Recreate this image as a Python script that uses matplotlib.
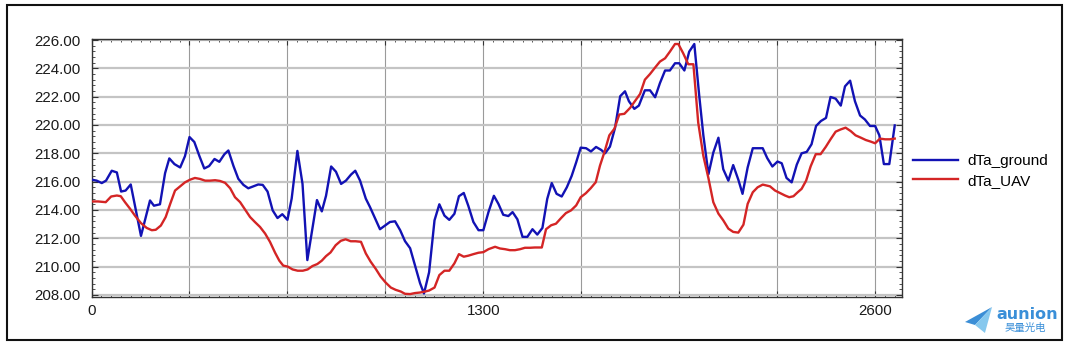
import numpy as np
import matplotlib
matplotlib.use("Agg")
import matplotlib.pyplot as plt
from matplotlib.ticker import MultipleLocator, FuncFormatter
from matplotlib.patches import Rectangle, Polygon

# data
ground_x = [0, 17, 34, 48, 67, 84, 98, 113, 130, 164, 194, 207, 227, 244, 258, 275, 294, 310, 325,
            341, 358, 374, 390, 408, 424, 441, 454, 471, 487, 504, 520, 537, 553, 568, 584, 601, 617,
            633, 650, 664, 683, 700, 716, 748, 764, 778, 795, 811, 828, 844, 861, 875, 891, 910, 924,
            941, 957, 974, 990, 1007, 1024, 1040, 1057, 1073, 1090, 1103, 1120, 1138, 1154, 1171, 1187,
            1204, 1219, 1235, 1250, 1267, 1284, 1300, 1317, 1335, 1350, 1366, 1383, 1397, 1413, 1430,
            1446, 1463, 1479, 1496, 1512, 1527, 1543, 1560, 1577, 1593, 1608, 1623, 1641, 1657, 1674,
            1691, 1704, 1720, 1737, 1754, 1770, 1783, 1801, 1816, 1836, 1853, 1870, 1886, 1903, 1919,
            1936, 1950, 1967, 1983, 2000, 2016, 2030, 2047, 2063, 2080, 2096, 2113, 2129, 2146, 2160,
            2177, 2194, 2210, 2227, 2242, 2259, 2276, 2290, 2306, 2323, 2340, 2356, 2373, 2389, 2404,
            2420, 2437, 2452, 2469, 2486, 2500, 2517, 2533, 2550, 2566, 2583, 2600, 2614, 2629, 2647, 2665]
ground_y = [216.14, 216.07, 215.9, 216.07, 216.77, 216.65, 215.3, 215.37, 215.8, 212.17, 214.67, 214.3,
            214.4, 216.6, 217.64, 217.24, 217.0, 217.8, 219.15, 218.8, 217.8, 216.93, 217.1, 217.6,
            217.4, 217.94, 218.2, 217.1, 216.2, 215.77, 215.53, 215.67, 215.8, 215.77, 215.3, 213.97,
            213.43, 213.7, 213.3, 214.8, 218.17, 215.84, 210.46, 214.7, 213.9, 215.0, 217.07, 216.7,
            215.84, 216.07, 216.5, 216.77, 216.07, 214.8, 214.2, 213.4, 212.64, 212.9, 213.15, 213.2,
            212.57, 211.8, 211.3, 210.1, 208.83, 208.1, 209.6, 213.27, 214.4, 213.6, 213.3, 213.73,
            214.97, 215.2, 214.3, 213.15, 212.57, 212.57, 213.85, 215.0, 214.43, 213.66, 213.57,
            213.85, 213.34, 212.1, 212.1, 212.64, 212.26, 212.73, 214.78, 215.9, 215.14, 214.95,
            215.6, 216.4, 217.36, 218.4, 218.36, 218.13, 218.45, 218.24, 218.0, 218.47, 219.8,
            222.03, 222.38, 221.68, 221.14, 221.37, 222.45, 222.45, 221.96, 222.96, 223.85, 223.85,
            224.36, 224.36, 223.85, 225.18, 225.72, 222.14, 219.27, 216.53, 218.05, 219.1, 216.88,
            216.07, 217.17, 216.14, 215.14, 217.0, 218.36, 218.36, 218.36, 217.66, 217.07, 217.42,
            217.3, 216.26, 215.95, 217.2, 218.0, 218.1, 218.64, 219.93, 220.28, 220.5, 221.98,
            221.86, 221.37, 222.73, 223.13, 221.68, 220.67, 220.39, 219.93, 219.93, 219.27, 217.24,
            217.24, 219.97]

uav_x = [0, 22, 47, 65, 84, 97, 111, 128, 144, 164, 183, 200, 213, 230, 246, 261, 277, 294, 310, 327,
         343, 360, 377, 393, 410, 426, 443, 460, 476, 493, 509, 526, 542, 559, 576, 592, 609, 623, 636,
         651, 667, 684, 701, 717, 733, 749, 764, 778, 793, 810, 827, 843, 860, 876, 894, 910, 926, 943,
         959, 976, 993, 1009, 1026, 1040, 1057, 1073, 1090, 1107, 1120, 1138, 1154, 1171, 1187, 1204,
         1219, 1235, 1250, 1267, 1284, 1300, 1317, 1339, 1355, 1372, 1388, 1405, 1422, 1438, 1455,
         1471, 1494, 1508, 1525, 1541, 1558, 1574, 1591, 1608, 1623, 1640, 1656, 1673, 1687, 1702,
         1718, 1735, 1751, 1768, 1787, 1803, 1820, 1836, 1853, 1870, 1886, 1903, 1919, 1936, 1947,
         1963, 1980, 1997, 2013, 2030, 2047, 2063, 2080, 2096, 2113, 2129, 2146, 2163, 2177, 2194,
         2210, 2227, 2251, 2268, 2284, 2301, 2315, 2329, 2343, 2356, 2371, 2386, 2403, 2419, 2436,
         2452, 2469, 2486, 2502, 2519, 2535, 2552, 2569, 2585, 2600, 2616, 2633, 2649, 2665]
uav_y = [214.6, 214.6, 214.55, 214.95, 215.02, 214.97, 214.55, 214.08, 213.6, 213.07, 212.73, 212.57,
         212.6, 212.9, 213.5, 214.43, 215.37, 215.67, 215.95, 216.14, 216.26, 216.19, 216.07, 216.07,
         216.1, 216.05, 215.92, 215.53, 214.9, 214.55, 214.04, 213.5, 213.15, 212.8, 212.33, 211.75,
         210.98, 210.42, 210.07, 210.0, 209.8, 209.71, 209.71, 209.8, 210.04, 210.18, 210.42, 210.74,
         211.0, 211.51, 211.82, 211.93, 211.79, 211.79, 211.75, 210.93, 210.35, 209.84, 209.3,
         208.87, 208.52, 208.36, 208.24, 208.08, 208.06, 208.13, 208.17, 208.24, 208.31, 208.52,
         209.4, 209.71, 209.71, 210.23, 210.88, 210.7, 210.77, 210.88, 210.98, 211.02, 211.23,
         211.4, 211.28, 211.23, 211.16, 211.16, 211.23, 211.33, 211.33, 211.35, 211.35, 212.64,
         212.92, 213.03, 213.43, 213.78, 213.97, 214.32, 214.9, 215.18, 215.53, 215.96, 217.13,
         218.1, 219.27, 219.74, 220.74, 220.79, 221.21, 221.68, 222.19, 223.2, 223.6, 224.06,
         224.48, 224.71, 225.18, 225.72, 225.72, 225.07, 224.29, 224.29, 220.16, 217.82, 216.23,
         214.55, 213.74, 213.27, 212.68, 212.45, 212.4, 212.96, 214.43, 215.25, 215.6, 215.79,
         215.67, 215.37, 215.2, 215.02, 214.9, 214.97, 215.25, 215.49, 216.07, 217.08, 217.94,
         217.94, 218.45, 218.99, 219.53, 219.69, 219.81, 219.57, 219.27, 219.11, 218.94, 218.83,
         218.71, 219.04, 218.99, 218.99, 219.04]

series_names = ["dTa_ground", "dTa_UAV"]
series_colors = ["#1212b4", "#d42525"]

plt.rcParams['font.family'] = ['Liberation Sans', 'DejaVu Sans']

fig = plt.figure(figsize=(10.72, 3.45), dpi=100)
ax = fig.add_axes([0.0854, 0.139, 0.7557, 0.747])

ax.plot(ground_x, ground_y, color=series_colors[0], lw=1.7, label=series_names[0], zorder=3)
ax.plot(uav_x, uav_y, color=series_colors[1], lw=1.7, label=series_names[1], zorder=3)

ax.set_xlim(0, 2688)
ax.set_ylim(207.85, 226.05)

# grid: every 325 on x (labels only at 0/1300/2600), every 2 on y
ax.xaxis.set_major_locator(MultipleLocator(325))
ax.xaxis.set_minor_locator(MultipleLocator(32.5))
ax.xaxis.set_major_formatter(FuncFormatter(lambda v, p: "%d" % v if abs(v % 1300) < 1e-6 else ""))
ax.yaxis.set_major_locator(MultipleLocator(2))
ax.yaxis.set_minor_locator(MultipleLocator(0.4))
ax.yaxis.set_major_formatter(FuncFormatter(lambda v, p: "%.2f" % v))

ax.grid(axis='x', which='major', color='#9a9a9a', lw=0.8)
ax.grid(axis='y', which='major', color='#c4c4c4', lw=1.6)
ax.set_axisbelow(True)

ax.tick_params(which='both', direction='in', top=True, right=True, colors='#333333',
               labelcolor='#1a1a1a', labelsize=10.8)
ax.tick_params(which='major', length=4)
ax.tick_params(which='minor', length=2.5)
ax.tick_params(axis='x', pad=5)
ax.tick_params(axis='y', pad=8)
for s in ax.spines.values():
    s.set_color('#333333')
    s.set_linewidth(1.0)

ax.legend(loc='center left', bbox_to_anchor=(0.852, 0.504), bbox_transform=fig.transFigure,
          frameon=False, fontsize=11, handlelength=2.9, handletextpad=0.65,
          labelspacing=0.35, borderpad=0, borderaxespad=0)

# outer frame
fig.patches.append(Rectangle((0.0065, 0.0145), 0.984, 0.971, transform=fig.transFigure,
                             fill=False, edgecolor='#111111', lw=1.5))

# watermark logo bottom right (paper plane + name)
fig.patches.append(Polygon([(0.9002, 0.0667), (0.9254, 0.1101), (0.9095, 0.058)], closed=True,
                           transform=fig.transFigure, color='#3b8ed6', lw=0))
fig.patches.append(Polygon([(0.9095, 0.058), (0.9254, 0.1101), (0.9188, 0.0348)], closed=True,
                           transform=fig.transFigure, color='#86c8ee', lw=0))
fig.text(0.929, 0.087, "aunion", color='#3a8fd8', fontsize=11.5, fontweight='bold',
         family=['DejaVu Sans'], va='center', ha='left')
fig.text(0.9375, 0.049, "昊量光电", color='#3a8fd8', fontsize=7.5,
         family=['Noto Sans CJK SC', 'DejaVu Sans'], va='center', ha='left')

fig.savefig("out.png", dpi=100)
